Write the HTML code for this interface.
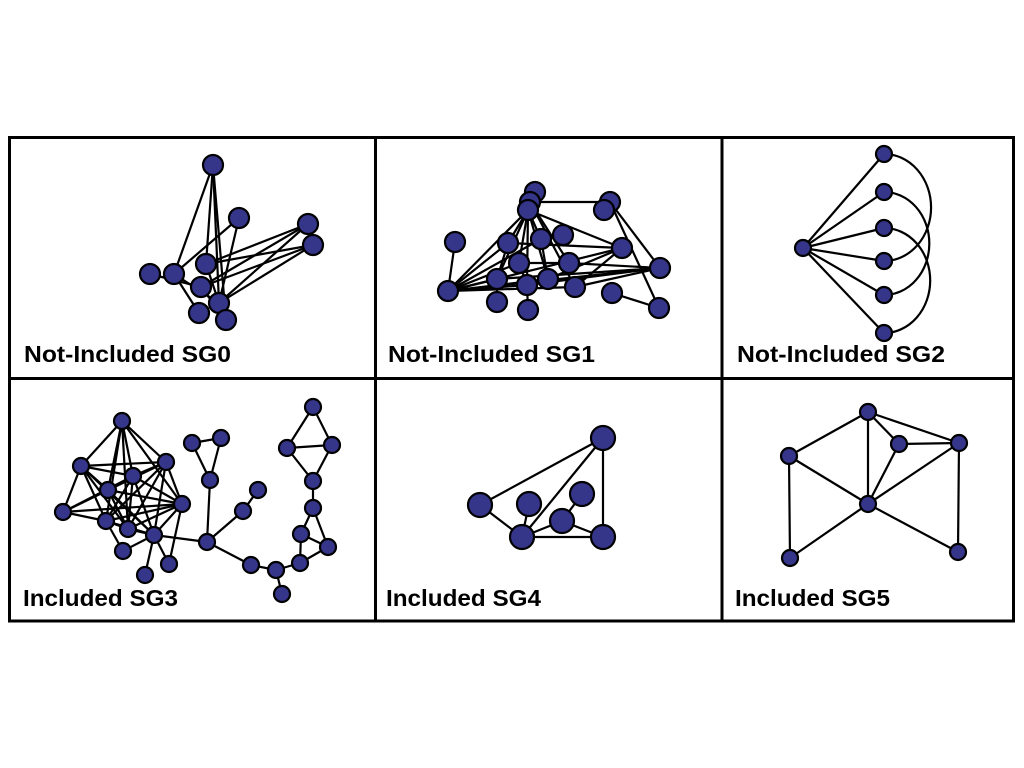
<!DOCTYPE html>
<html><head><meta charset="utf-8"><style>html,body{margin:0;padding:0;background:#fff}svg{display:block}</style></head>
<body>
<svg id="fig" width="1024" height="768" viewBox="0 0 1024 768" xmlns="http://www.w3.org/2000/svg">
<g id="edges" stroke="#000" stroke-width="2.2" fill="none"></g>
<g id="nodes" fill="#35358a" stroke="#000" stroke-width="2.2"></g>
<g stroke="#000" stroke-width="3" fill="none">
<rect x="9.5" y="137.5" width="1004" height="483.5"/>
<line x1="375.5" y1="137.5" x2="375.5" y2="621"/>
<line x1="722" y1="137.5" x2="722" y2="621"/>
<line x1="9.5" y1="378.5" x2="1013.5" y2="378.5"/>
</g>
<g font-family="Liberation Sans, sans-serif" font-weight="bold" font-size="23" fill="#000">
<text x="24" y="362" textLength="207" lengthAdjust="spacingAndGlyphs">Not-Included SG0</text>
<text x="388" y="362" textLength="207" lengthAdjust="spacingAndGlyphs">Not-Included SG1</text>
<text x="737" y="362" textLength="208" lengthAdjust="spacingAndGlyphs">Not-Included SG2</text>
<text x="23" y="606" textLength="155" lengthAdjust="spacingAndGlyphs">Included SG3</text>
<text x="386" y="606" textLength="155" lengthAdjust="spacingAndGlyphs">Included SG4</text>
<text x="735" y="606" textLength="155" lengthAdjust="spacingAndGlyphs">Included SG5</text>
</g>
</svg>
<script>
const NS='http://www.w3.org/2000/svg';
const sg0Nodes=[[213,165,10],[239,218,10],[308,224,10],[313,245,10],[150,274,10],[174,274,10],[206,264,10],[201,287,10],[219,303,10],[199,313,10],[226,320,10]];
const sg0Edges=[[0,5],[0,8],[0,10],[0,6],[1,5],[1,8],[2,6],[2,7],[2,8],[3,6],[3,7],[3,8],[4,7],[5,9],[5,8],[6,8],[7,10]];
const sg1Nodes=[[535,192,10],[530,202,10],[528,210,10],[610,202,10],[604,210,10],[455,242,10],[508,243,10],[541,239,10],[563,235,10],[622,248,10],[519,263,10],[569,263,10],[660,268,10],[497,279,10],[527,285,10],[548,279,10],[575,287,10],[448,291,10],[612,293,10],[497,302,10],[528,310,10],[659,308,10]];
const sg1Edges=[[17,2],[17,6],[17,7],[17,10],[17,13],[17,14],[17,15],[17,16],[17,12],[17,9],[17,5],[2,6],[2,7],[2,10],[2,14],[2,15],[1,3],[2,9],[2,13],[1,11],[3,12],[3,21],[18,21],[13,12],[14,12],[15,9],[16,9],[6,9],[7,8],[10,11],[13,19],[14,20],[6,13],[7,15],[10,14],[11,12],[1,16],[16,12]];
const sg2Nodes=[[803,248,8],[884,154,8],[884,192,8],[884,228,8],[884,261,8],[884,295,8],[884,333,8]];
const sg2Edges=[[0,1],[0,2],[0,3],[0,4],[0,5],[0,6]];
const sg2Arcs=[[1,4],[2,5],[3,6]];
const sg3Nodes=[[122,421,8],[81,466,8],[166,462,8],[133,476,8],[108,490,8],[182,504,8],[63,512,8],[106,521,8],[128,529,8],[154,535,8],[123,551,8],[169,564,8],[145,575,8],[192,443,8],[221,438,8],[210,480,8],[258,490,8],[243,511,8],[207,542,8],[251,565,8],[276,570,8],[282,594,8],[300,563,8],[328,547,8],[301,534,8],[313,508,8],[313,481,8],[287,448,8],[332,445,8],[313,407,8]];
const sg3Edges=[[0,1],[0,2],[0,3],[0,4],[0,7],[0,8],[0,5],[1,2],[1,3],[1,4],[1,6],[1,7],[1,8],[1,9],[2,3],[2,4],[2,5],[2,6],[2,7],[2,8],[2,9],[3,4],[3,5],[3,6],[3,7],[3,8],[3,9],[4,5],[4,6],[4,8],[4,9],[5,6],[5,7],[5,8],[5,9],[6,7],[7,8],[7,9],[7,10],[8,9],[9,10],[9,11],[9,12],[5,11],[9,18],[13,14],[13,15],[14,15],[15,18],[18,17],[17,16],[18,19],[19,20],[20,21],[20,22],[22,23],[23,25],[25,24],[24,22],[24,23],[25,26],[26,27],[27,29],[29,28],[28,26],[27,28]];
const sg4Nodes=[[603,438,12],[480,505,12],[529,504,12],[582,494,12],[562,521,12],[522,537,12],[603,537,12]];
const sg4Edges=[[0,1],[0,5],[0,6],[1,5],[2,5],[5,4],[4,3],[4,6],[5,6]];
const sg5Nodes=[[868,412,8],[789,456,8],[899,444,8],[959,443,8],[868,504,8],[790,558,8],[958,552,8]];
const sg5Edges=[[0,1],[0,4],[0,2],[0,3],[2,3],[2,4],[3,4],[3,6],[1,4],[1,5],[4,5],[4,6]];
const graphs=[['sg0',sg0Nodes,sg0Edges],['sg1',sg1Nodes,sg1Edges],['sg2',sg2Nodes,sg2Edges],['sg3',sg3Nodes,sg3Edges],['sg4',sg4Nodes,sg4Edges],['sg5',sg5Nodes,sg5Edges]];
const eg=document.getElementById('edges'),ng=document.getElementById('nodes');
graphs.forEach(([id,nodes,edges])=>{
  edges.forEach(([a,b])=>{
    const l=document.createElementNS(NS,'line');
    l.setAttribute('x1',nodes[a][0]);l.setAttribute('y1',nodes[a][1]);
    l.setAttribute('x2',nodes[b][0]);l.setAttribute('y2',nodes[b][1]);
    
    
    eg.appendChild(l);
  });
  if(id==='sg2'){
    sg2Arcs.forEach(([a,b])=>{
      const p=document.createElementNS(NS,'path');
      const A=nodes[a],B=nodes[b];const h=(B[1]-A[1])/2;
      p.setAttribute('d',`M${A[0]},${A[1]} A${h*0.88},${h} 0 0 1 ${B[0]},${B[1]}`);
      
      
      eg.appendChild(p);
    });
  }
  nodes.forEach(([x,y,r])=>{
    const c=document.createElementNS(NS,'circle');
    c.setAttribute('cx',x);c.setAttribute('cy',y);c.setAttribute('r',r);
    
    
    ng.appendChild(c);
  });
});
</script>
</body></html>
